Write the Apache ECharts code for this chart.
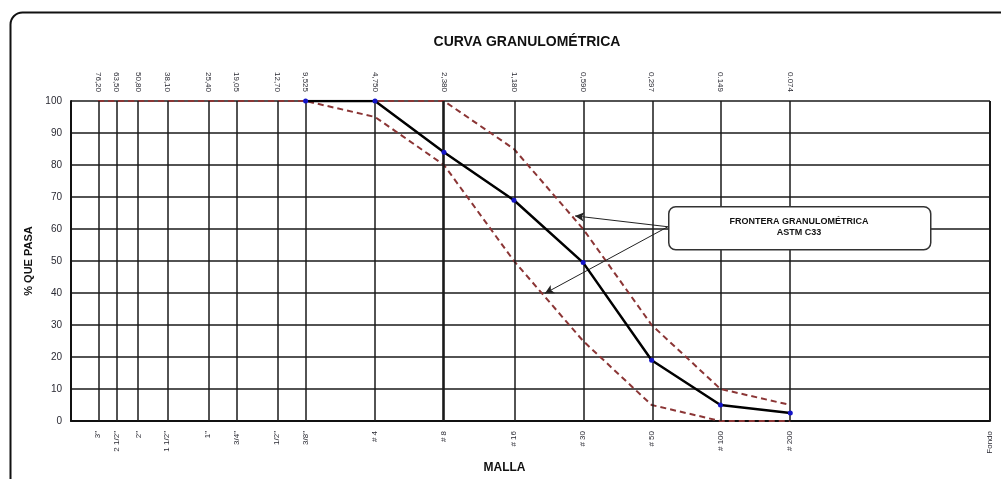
<!DOCTYPE html>
<html>
<head>
<meta charset="utf-8">
<script src="https://cdn.jsdelivr.net/npm/echarts@6/dist/echarts.min.js"></script>
<style>
html,body{margin:0;padding:0;background:#fff;}
#c{width:1001px;height:479px;}
</style>
</head>
<body>
<div id="c"></div>
<script>
// ---- data ----
const sieveMm = [76.2, 63.5, 50.8, 38.1, 25.4, 19.05, 12.7, 9.525, 4.75, 2.38, 1.18, 0.59, 0.297, 0.149, 0.074];
const topLabels = ['76,20','63,50','50,80','38,10','25,40','19,05','12,70','9,525','4,750','2,380','1,180','0,590','0,297','0.149','0.074'];
const bottomLabels = ['3"','2 1/2"','2"','1 1/2"','1"','3/4"','1/2"','3/8"','# 4','# 8','# 16','# 30','# 50','# 100','# 200','Fondo'];
const fondoMm = 0.01;
const curveMm = [9.525, 4.75, 2.38, 1.18, 0.59, 0.297, 0.149, 0.074];
const passing = [100, 100, 84, 69, 49.5, 19, 5, 2.5];
const upperLimit = [100, 100, 100, 100, 100, 100, 100, 100, 100, 100, 85, 60, 30, 10, 5];
const lowerLimit = [100, 100, 100, 100, 100, 100, 100, 100, 95, 80, 50, 25, 5, 0, 0];
const yTicks = [0,10,20,30,40,50,60,70,80,90,100];

const L = v => Math.log10(v);
const topVals = sieveMm.map(L);
const bottomVals = sieveMm.concat([fondoMm]).map(L);
function nearestLabel(vals, labels, v){
  let bi = 0, bd = Infinity;
  vals.forEach((x,i)=>{const d=Math.abs(x-v); if(d<bd){bd=d;bi=i;}});
  return bd < 1e-6 ? labels[bi] : '';
}
const pts = arr => curveMm.map((m,i)=>[L(m), arr[i]]);
const fullPts = arr => sieveMm.map((m,i)=>[L(m), arr[i]]);
const FONT = '"Liberation Sans", Arial, sans-serif';
const txt = '#2a2a33';

const vLines = sieveMm.map(m => ({xAxis: L(m), lineStyle: {width: m === 2.38 ? 2.6 : 1.5}}));
vLines.push({xAxis: L(fondoMm), lineStyle:{width:2}});

const chart = echarts.init(document.getElementById('c'), null, {renderer:'canvas'});
chart.setOption({
  animation:false,
  backgroundColor:'#fff',
  textStyle:{fontFamily:FONT},
  title:{
    text:'CURVA GRANULOMÉTRICA', left:522, top:30, textAlign:'center',
    textStyle:{fontFamily:FONT, fontSize:14, fontWeight:'bold', color:'#111'}
  },
  grid:{left:71, right:11, top:101, bottom:52, containLabel:false},
  xAxis:[{
    type:'value', min:-2, max:2, inverse:true, position:'bottom',
    name:'MALLA', nameLocation:'middle', nameGap:41,
    nameTextStyle:{fontFamily:FONT, fontSize:12, fontWeight:'bold', color:'#111', padding:[0,52,0,0]},
    axisLine:{show:true, onZero:false, lineStyle:{color:'#111', width:2}},
    axisTick:{show:false},
    splitLine:{show:false},
    axisLabel:{
      customValues: bottomVals, rotate:90, fontSize:8, color:txt, margin:10, fontFamily:FONT,
      formatter: v => nearestLabel(bottomVals, bottomLabels, v)
    }
  },{
    type:'value', min:-2, max:2, inverse:true, position:'top',
    axisLine:{show:false, onZero:false}, axisTick:{show:false}, splitLine:{show:false},
    axisLabel:{
      customValues: topVals, rotate:90, fontSize:8, color:txt, margin:9, fontFamily:FONT,
      formatter: v => nearestLabel(topVals, topLabels, v)
    }
  }],
  yAxis:{
    type:'value', min:0, max:100, interval:10, position:'left',
    name:'% QUE PASA', nameLocation:'middle', nameGap:33, nameRotate:90,
    nameTextStyle:{fontFamily:FONT, fontSize:11, fontWeight:'bold', color:'#111'},
    axisLine:{show:true, onZero:false, lineStyle:{color:'#111', width:2}},
    axisTick:{show:false},
    axisLabel:{fontSize:10, color:txt, margin:9, fontFamily:FONT, customValues: yTicks},
    splitLine:{show:true, lineStyle:{color:'#1a1a1a', width:1.5}}
  },
  series:[
    {
      type:'line', data:[], silent:true,
      markLine:{
        silent:true, symbol:['none','none'], label:{show:false},
        lineStyle:{type:'solid', color:'#1a1a1a', width:1.5},
        data: vLines
      }
    },
    {
      type:'line', name:'upper', data:fullPts(upperLimit), showSymbol:false, smooth:false,
      lineStyle:{color:'#8b3535', width:2, type:[6,4]}, z:3
    },
    {
      type:'line', name:'lower', data:fullPts(lowerLimit), showSymbol:false, smooth:false,
      lineStyle:{color:'#8b3535', width:2, type:[6,4]}, z:3
    },
    {
      type:'line', name:'curve', data:pts(passing), symbol:'circle', symbolSize:5,
      itemStyle:{color:'#1414c8'}, lineStyle:{color:'#000', width:2.5}, z:5
    },
    {
      type:'line', data:[], silent:true,
      markLine:{
        silent:true, symbol:['none','arrow'], symbolSize:[7,9], label:{show:false},
        lineStyle:{type:'solid', color:'#222', width:1},
        data:[
          [{coord:[-0.598, 60.7]}, {coord:[-0.194, 64.1]}],
          [{coord:[-0.598, 60.7]}, {coord:[-0.063, 39.9]}]
        ]
      }
    }
  ],
  graphic:[
    {type:'rect', left:8, top:10, shape:{width:1010, height:490, r:12}, style:{fill:'none', stroke:'#111', lineWidth:2}, z:100},
    {type:'rect', left:668, top:206, shape:{width:262, height:43, r:7}, style:{fill:'#fff', stroke:'#333', lineWidth:1.5}, z:100},
    {type:'text', x:799, y:216, z:101,
      style:{text:'FRONTERA GRANULOMÉTRICA\nASTM C33', fill:'#111', font:'bold 9px "Liberation Sans", Arial, sans-serif', textAlign:'center', textVerticalAlign:'top', lineHeight:11}}
  ]
});
</script>
</body>
</html>
